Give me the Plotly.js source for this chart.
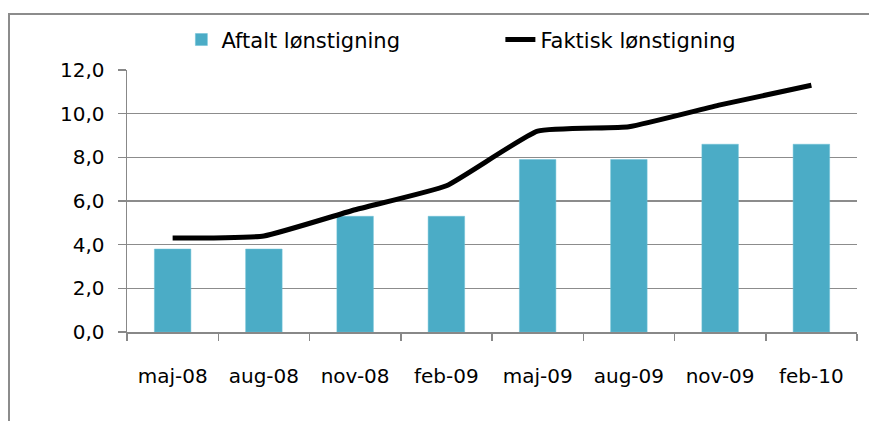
<!DOCTYPE html>
<html><head><meta charset="utf-8">
<script src="https://cdn.plot.ly/plotly-3.0.1.min.js"></script>
<style>
html,body{margin:0;padding:0;width:869px;height:421px;overflow:hidden;background:#fff;}
#frame{position:absolute;left:8px;top:13px;width:900px;height:500px;border:2px solid #8c8c8c;box-sizing:border-box;}
#chart{position:absolute;left:0;top:0;width:869px;height:421px;}
</style></head>
<body>
<div id="frame"></div>
<div id="chart"></div>
<script>
const categories = ["maj-08","aug-08","nov-08","feb-09","maj-09","aug-09","nov-09","feb-10"];
const aftalt = [3.8,3.8,5.3,5.3,7.9,7.9,8.6,8.6];
const faktisk = [4.3,4.4,5.6,6.7,9.2,9.4,10.4,11.3];
const yTicks = [0,2,4,6,8,10,12];

const tickFont = "'DejaVu Sans', sans-serif";
const data = [
  {type:'bar', name:'Aftalt lønstigning', x:categories, y:aftalt,
   marker:{color:'#4BACC6', line:{color:'#6cc0d6', width:0.5}}},
  {type:'scatter', mode:'lines', name:'Faktisk lønstigning', x:categories, y:faktisk,
   line:{color:'#000', width:5, shape:'spline', smoothing:0.4}}
];
const layout = {
  width:869, height:421,
  paper_bgcolor:'rgba(0,0,0,0)', plot_bgcolor:'rgba(0,0,0,0)',
  margin:{l:127, r:12, t:70, b:89, autoexpand:false},
  separators:', ',
  bargap:0.6,
  font:{family:tickFont, size:20, color:'#000'},
  showlegend:true,
  legend:{orientation:'h', x:0.0745, xanchor:'left', y:1.115, yanchor:'middle',
          font:{family:tickFont, size:21, color:'#000'}, itemwidth:30, entrywidth:274, traceorder:'normal'},
  xaxis:{type:'category', tickson:'boundaries', ticks:'outside', ticklen:7, tickcolor:'#888', tickwidth:1.5,
         showline:true, linecolor:'#888', linewidth:1.5, showgrid:false,
         ticklabelstandoff:25, tickfont:{family:tickFont, size:20}},
  yaxis:{range:[0,12], tickvals:yTicks, tickformat:'.1f', ticks:'outside', ticklen:8, tickcolor:'#888', tickwidth:1.5,
         showline:true, linecolor:'#888', linewidth:1.5, showgrid:true, gridcolor:'#8c8c8c', gridwidth:1.5,
         zeroline:false, ticklabelstandoff:9, tickfont:{family:tickFont, size:20}}
};
Plotly.newPlot('chart', data, layout, {displayModeBar:false, staticPlot:true});
</script>
</body></html>
